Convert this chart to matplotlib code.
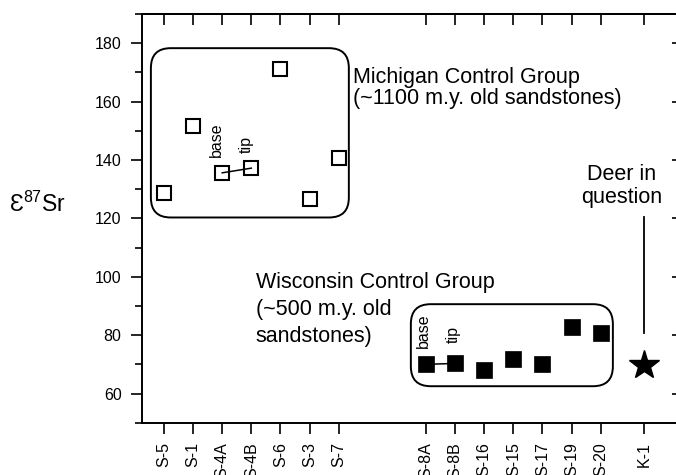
import numpy as np
import matplotlib
matplotlib.use('Agg')
import matplotlib.pyplot as plt
from matplotlib.patches import FancyBboxPatch
from matplotlib.ticker import MultipleLocator

plt.rcParams['font.family'] = ['Liberation Sans', 'DejaVu Sans']
plt.rcParams['mathtext.fontset'] = 'custom'
plt.rcParams['mathtext.rm'] = 'Liberation Sans'
plt.rcParams['mathtext.default'] = 'regular'

# Michigan control group (open squares)
michigan_labels = ['S-5', 'S-1', 'S-4A', 'S-4B', 'S-6', 'S-3', 'S-7']
michigan_values = [128.6, 151.8, 135.6, 137.2, 171.2, 126.6, 140.8]

# Wisconsin control group (filled squares)
wisconsin_labels = ['S-8A', 'S-8B', 'S-16', 'S-15', 'S-17', 'S-19', 'S-20']
wisconsin_values = [70.0, 70.3, 68.0, 71.8, 70.0, 82.9, 80.6]

# Deer in question
deer_label = 'K-1'
deer_value = 69.6

# x positions: two groups with a gap, deer half a step further
michigan_x = np.arange(1, 8)
wisconsin_x = np.arange(10, 17)
deer_x = 17.5

fig = plt.figure(figsize=(6.76, 4.75), dpi=100)
ax = fig.add_axes([0.2096, 0.1101, 1.0104 - 0.2096, 0.9705 - 0.1101])

# base -> tip connectors
ax.plot(michigan_x[2:4], michigan_values[2:4], color='black', lw=1.1, zorder=2)
ax.plot(wisconsin_x[0:2], wisconsin_values[0:2], color='black', lw=1.1, zorder=2)

ax.plot(michigan_x, michigan_values, 's', ms=10.6, mfc='none', mec='black',
        mew=1.5, zorder=3)
ax.plot(wisconsin_x, wisconsin_values, 's', ms=12.2, mfc='black', mec='black',
        mew=0.5, zorder=3)
ax.plot([deer_x], [deer_value], '*', ms=22, color='black', zorder=3)

ax.set_xlim(0.234, 18.83)
ax.set_ylim(50, 190)

# rounded group boxes (corner radius kept equal in pixels)
aspect = 10.0
mich_box = (min(michigan_x) - 0.45, min(michigan_values) - 6.3,
            max(michigan_x) + 0.35, max(michigan_values) + 7.1)
wisc_box = (min(wisconsin_x) - 0.52, min(wisconsin_values) - 5.5,
            max(wisconsin_x) + 0.42, max(wisconsin_values) + 7.7)
for x0, y0, x1, y1 in (mich_box, wisc_box):
    ax.add_patch(FancyBboxPatch((x0, y0), x1 - x0, y1 - y0,
                                boxstyle='round,pad=0,rounding_size=0.68',
                                mutation_aspect=aspect, fill=False,
                                ec='black', lw=1.4, zorder=1))

# base / tip labels
ax.text(2.81, 141.1, 'base', rotation=90, ha='center', va='bottom', fontsize=11.5)
ax.text(3.84, 142.4, 'tip', rotation=90, ha='center', va='bottom', fontsize=11.5)
ax.text(9.90, 75.6, 'base', rotation=90, ha='center', va='bottom', fontsize=11.5)
ax.text(10.93, 77.3, 'tip', rotation=90, ha='center', va='bottom', fontsize=11.5)

# group annotations
ax.text(7.49, 164.6, 'Michigan Control Group\n(~1100 m.y. old sandstones)',
        ha='left', va='center', fontsize=15.5, linespacing=1.0)
wisc_lines = ['Wisconsin Control Group', '(~500 m.y. old', 'sandstones)']
for line, yb in zip(wisc_lines, [96.0, 86.8, 77.7]):
    ax.text(4.15, yb, line, ha='left', va='baseline', fontsize=15.5)
ax.text(16.72, 131.1, 'Deer in\nquestion', ha='center', va='center',
        fontsize=15.5, linespacing=1.1)
ax.plot([deer_x, deer_x], [120.5, 80.6], color='black', lw=1.3)

# axis label
fig.text(0.056, 1 - 204.3 / 475, 'Ɛ$^{87}$Sr', ha='center', va='center',
         fontsize=16.5)

# ticks
all_x = list(michigan_x) + list(wisconsin_x) + [deer_x]
all_labels = michigan_labels + wisconsin_labels + [deer_label]
ax.set_xticks(all_x)
ax.set_xticklabels(all_labels, rotation=90, va='top', fontsize=11.5)
ax.set_yticks(np.arange(60, 181, 20))
ax.yaxis.set_minor_locator(MultipleLocator(10))
ax.tick_params(axis='y', which='major', direction='out', length=8, width=1.2,
               labelsize=11.5, pad=6.5)
ax.tick_params(axis='y', which='minor', direction='out', length=5, width=1.2)
ax.tick_params(axis='x', direction='out', length=8, width=1.2, pad=6)

top = ax.secondary_xaxis('top')
top.set_xticks(all_x)
top.tick_params(direction='in', length=8, width=1.2, labeltop=False)
right = ax.secondary_yaxis('right')
right.set_yticks(np.arange(60, 181, 20))
right.tick_params(direction='in', length=8, width=1.2, labelright=False)

for spine in list(ax.spines.values()):
    spine.set_linewidth(1.4)
top.spines['top'].set_linewidth(1.4)
right.spines['right'].set_linewidth(1.4)

fig.savefig('out.png', dpi=100)
